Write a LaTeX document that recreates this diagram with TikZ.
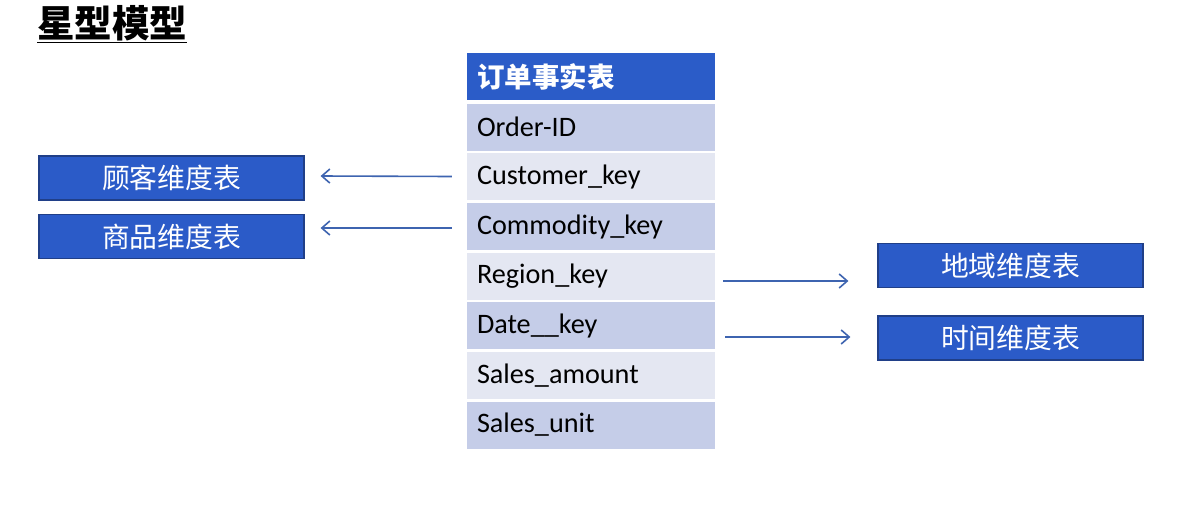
\documentclass[tikz,border=0pt]{standalone}
\usepackage{fontspec}
\setmainfont{Carlito}
\newfontfamily\cjk{Noto Sans CJK SC}
\usetikzlibrary{calc,arrows.meta}
\definecolor{hdrblue}{RGB}{43,92,200}
\definecolor{rowdark}{RGB}{197,205,232}
\definecolor{rowlight}{RGB}{228,231,242}
\definecolor{dimfill}{RGB}{43,91,200}
\definecolor{dimborder}{RGB}{32,63,136}
\definecolor{arrcol}{RGB}{62,100,176}
\tikzset{
  row/.style={minimum width=248pt, minimum height=47pt, inner sep=0pt, text width=228pt, align=left,
    font=\fontsize{28.2}{32}\selectfont, text=black},
  hdr/.style={row, fill=hdrblue, text=white, font=\cjk\bfseries\fontsize{27.5}{32}\selectfont},
  dimbox/.style={draw=dimborder, line width=1.2pt, fill=dimfill, minimum width=265pt, minimum height=44pt,
    inner sep=0pt, text=white, font=\cjk\fontsize{27.8}{32}\selectfont},
  arr/.style={draw=arrcol, line width=1.6pt, -{Straight Barb[length=8pt,width=14pt,line width=1.6pt]}},
}
\begin{document}
\begin{tikzpicture}[x=1pt,y=-1pt]
\useasboundingbox[fill=white] (0,0) rectangle (1194,509);
\node[anchor=west, inner sep=0pt, font=\cjk\bfseries\fontsize{37.5}{40}\selectfont] (title) at (37,24) {\underline{星型模型}};
\node[hdr] (h) at (591,76.5) {订单事实表};
\node[row, fill=rowdark] (r1) at (591,127) {Order-ID};
\node[row, fill=rowlight] (r2) at (591,176.5) {Customer\_key};
\node[row, fill=rowdark] (r3) at (591,226.5) {Commodity\_key};
\node[row, fill=rowlight] (r4) at (591,276.5) {Region\_key};
\node[row, fill=rowdark] (r5) at (591,325.5) {Date\_\_key};
\node[row, fill=rowlight] (r6) at (591,375.5) {Sales\_amount};
\node[row, fill=rowdark] (r7) at (591,425) {Sales\_unit};
\node[dimbox] (cust) at (171.5,178) {顾客维度表};
\node[dimbox] (comm) at (171.5,236.5) {商品维度表};
\node[dimbox] (reg) at (1010.5,265.5) {地域维度表};
\node[dimbox] (time) at (1010.5,338) {时间维度表};
\draw[arr] ($(r2.west)+(-15,0)$) -- ($(cust.east)+(16,-2)$);
\draw[arr] ($(r3.west)+(-15,1.5)$) -- ($(comm.east)+(16,-8.5)$);
\draw[arr] ($(r4.east)+(8,4.5)$) -- ($(reg.west)+(-29,15.5)$);
\draw[arr] ($(r5.east)+(10,11.5)$) -- ($(time.west)+(-27,-1)$);
\end{tikzpicture}
\end{document}
